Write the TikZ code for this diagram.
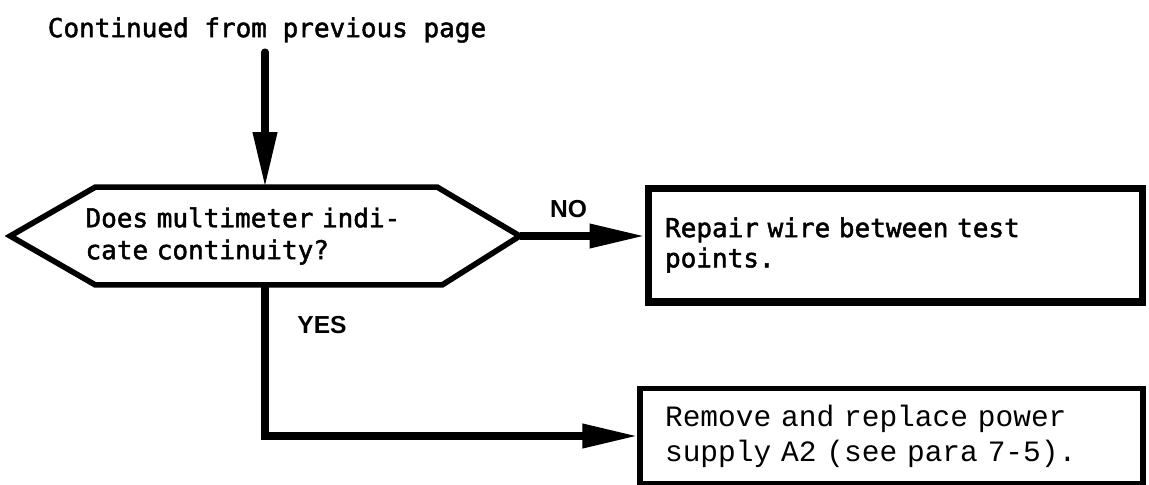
\documentclass[tikz,border=0pt]{standalone}
\usepackage{fontspec}
\setmonofont{DejaVu Sans Mono}[WordSpace={1,0,0}, FakeBold=1.8]
\setsansfont{Liberation Sans}
\newfontfamily\plainmono{Liberation Mono}[WordSpace={1,0,0}]
\usetikzlibrary{arrows.meta}

\begin{document}
\begin{tikzpicture}[x=0.02cm, y=-0.02cm,
                flow/.style={line width=4pt, -{Triangle[length=1.1cm,width=0.46cm]}},
                decision/.style={rectangle, minimum width=10.18cm, minimum height=1.94cm,
                text width=7.18cm, align=left, inner sep=0pt,
                font=\ttfamily\fontsize{14.8}{18.2}\selectfont},
                hexline/.style={line width=3.2pt, line join=miter},
                action/.style={rectangle, draw, line width=4pt, minimum width=9.9cm,
                minimum height=2.28cm, inner xsep=0.34cm, text width=9.22cm, align=left,
                font=\ttfamily\fontsize{14.8}{17.2}\selectfont},
                answer/.style={font=\sffamily\bfseries\fontsize{14}{16}\selectfont}
            ]
        \useasboundingbox (0,0) rectangle (1149,484);

        \node[font=\ttfamily\fontsize{14.8}{18}\selectfont] (heading) at (267,30) {Continued from previous page};
        \coordinate (entry) at (265,52);

        % decision hexagon around the question
        \node[decision] (decide) at (265,236) {Does multimeter indi-\\cate continuity?};
        \draw[hexline] (decide.west) -- ([xshift=1.7cm]decide.north west)
            -- ([xshift=-1.65cm]decide.north east) -- (decide.east)
            -- ([xshift=-1.55cm]decide.south east) -- ([xshift=1.7cm]decide.south west) -- cycle;

        \node[action] (repair) at (895.5,245) {Repair wire between test\\points.};
        \node[action, line width=3pt, minimum width=10.06cm, minimum height=1.9cm,
              inner xsep=0.5cm, text width=9.06cm,
              font=\plainmono\fontsize{16.8}{19.9}\selectfont] (replace) at (891.5,436)
              {Remove and replace power\\supply A2 (see para 7-5).};

        \node[answer] (yes) at (322,325) {YES};

        \draw[flow, line cap=round] (entry) -- (decide.north);
        \draw[flow] (decide.east) -- (decide.east -| repair.west)
            node[answer, above=5pt, pos=0.39] (no) {NO};
        \draw[flow] (decide.south) |- (replace.west);
            \end{tikzpicture}
\end{document}
